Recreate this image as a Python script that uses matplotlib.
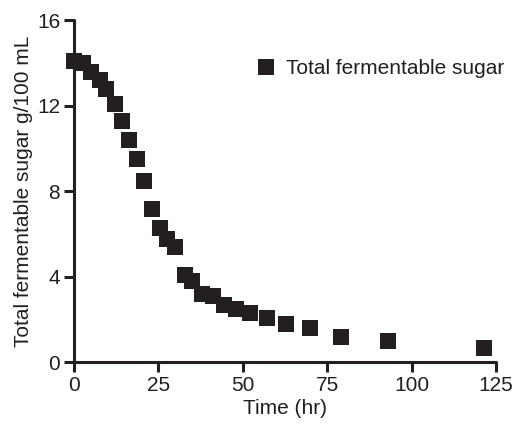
import matplotlib
matplotlib.use("Agg")
import matplotlib.pyplot as plt

plt.rcParams['font.family'] = ['Liberation Sans', 'DejaVu Sans']

# sugar readings
time_hr = [0, 2.6, 5.0, 7.7, 9.5, 12.1, 14.2, 16.3, 18.7, 20.7, 23.1, 25.5,
           27.5, 29.9, 32.9, 35.0, 37.9, 41.2, 44.4, 48.0, 52.1, 57.2, 62.8,
           69.9, 79.1, 93.0, 121.4]
sugar = [14.07, 14.0, 13.55, 13.18, 12.76, 12.07, 11.26, 10.37, 9.50, 8.47,
         7.16, 6.28, 5.75, 5.39, 4.07, 3.79, 3.18, 3.10, 2.68, 2.48, 2.29,
         2.06, 1.78, 1.59, 1.17, 0.98, 0.65]

xticks = [0, 25, 50, 75, 100, 125]
yticks = [0, 4, 8, 12, 16]

fig = plt.figure(figsize=(5.14, 4.28), dpi=100)
ax = fig.add_axes([0.144, 0.154, 0.821, 0.799])

ax.plot(time_hr, sugar, 's', color='#231f20', markersize=11.3,
        markeredgewidth=0, label='Total fermentable sugar', clip_on=False, zorder=3)

ax.set_xlim(0, 125)
ax.set_ylim(0, 16)
ax.set_xticks(xticks)
ax.set_yticks(yticks)

for s in ['top', 'right']:
    ax.spines[s].set_visible(False)
for s in ['left', 'bottom']:
    ax.spines[s].set_linewidth(2.2)
    ax.spines[s].set_color('#231f20')
    ax.spines[s].set_capstyle('round')

ax.tick_params(length=7, width=2.2, color='#231f20', labelsize=15,
               labelcolor='#231f20', pad=3)
for t in ax.xaxis.get_ticklines() + ax.yaxis.get_ticklines():
    t.set_solid_capstyle('round')

ax.set_xlabel('Time (hr)', fontsize=15, color='#231f20', labelpad=3)
ax.set_ylabel('Total fermentable sugar g/100 mL', fontsize=15,
              color='#231f20', labelpad=3)

ax.legend(loc='upper right', bbox_to_anchor=(1.065, 0.94), frameon=False,
          fontsize=15, handlelength=1.0, handletextpad=0.5, numpoints=1,
          labelcolor='#231f20')

fig.savefig('out.png', dpi=100)
